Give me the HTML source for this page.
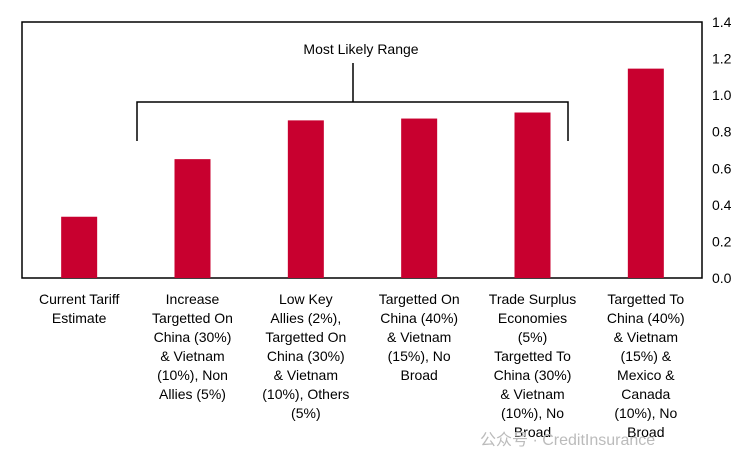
<!DOCTYPE html>
<html><head><meta charset="utf-8"><style>
body{margin:0;background:#fff;}
svg text{font-family:"Liberation Sans",Arial,sans-serif;fill:#000;}
</style></head><body>
<svg id="chart" width="750" height="469" xmlns="http://www.w3.org/2000/svg">
<rect x="22" y="22" width="680" height="256" fill="none" stroke="#000" stroke-width="1.5"/>
<g id="yaxis"></g><g id="bars"></g><g id="xlabels"></g>
<g fill="none" stroke="#000" stroke-width="1.5">
<polyline points="137,141 137,102 568,102 568,141"/>
<line x1="353" y1="102" x2="353" y2="63"/>
</g>
<text x="361" y="54" font-size="14" text-anchor="middle">Most Likely Range</text>
<text x="480" y="445" font-size="16" fill="#bbb" style="fill:#bbb">公众号 · CreditInsurance</text>
</svg>
<script>
const categories=[
["Current Tariff","Estimate"],
["Increase","Targetted On","China (30%)","& Vietnam","(10%), Non","Allies (5%)"],
["Low Key","Allies (2%),","Targetted On","China (30%)","& Vietnam","(10%), Others","(5%)"],
["Targetted On","China (40%)","& Vietnam","(15%), No","Broad"],
["Trade Surplus","Economies","(5%)","Targetted To","China (30%)","& Vietnam","(10%), No","Broad"],
["Targetted To","China (40%)","& Vietnam","(15%) &","Mexico &","Canada","(10%), No","Broad"]];
const values=[0.335,0.65,0.862,0.872,0.905,1.145];
const ticks=[0,0.2,0.4,0.6,0.8,1.0,1.2,1.4];
const NS="http://www.w3.org/2000/svg";
const x0=22,x1=702,yb=278,yt=22,ymax=1.4,bw=36;
const y=v=>yb-(v/ymax)*(yb-yt);
const band=(x1-x0)/values.length;
const xc=i=>x0+band*(i+0.5)+0.5;
const ya=document.getElementById('yaxis');
ticks.forEach(t=>{const e=document.createElementNS(NS,'text');


e.setAttribute('x',712);e.setAttribute('y',y(t)+5);e.setAttribute('font-size','14');
e.textContent=t.toFixed(1);ya.appendChild(e);});
const bg=document.getElementById('bars');
values.forEach((v,i)=>{const r=document.createElementNS(NS,'rect');


r.setAttribute('x',xc(i)-bw/2);r.setAttribute('y',y(v));r.setAttribute('width',bw);r.setAttribute('height',yb-y(v));r.setAttribute('fill','#c8002f');bg.appendChild(r);});
const xl=document.getElementById('xlabels');
categories.forEach((lines,i)=>{const t=document.createElementNS(NS,'text');


t.setAttribute('x',xc(i));t.setAttribute('y',304);t.setAttribute('font-size','14');t.setAttribute('text-anchor','middle');
lines.forEach((l,j)=>{const s=document.createElementNS(NS,'tspan');s.setAttribute('x',xc(i));s.setAttribute('dy',j?19:0);s.textContent=l;t.appendChild(s);});
xl.appendChild(t);});
</script>
</body></html>
